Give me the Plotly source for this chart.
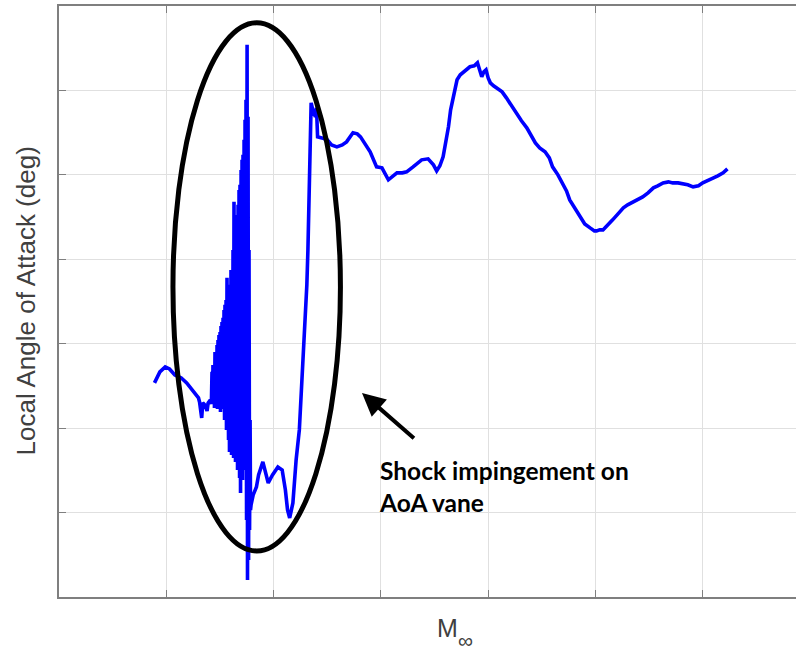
import plotly.graph_objects as go

# Free-stream Mach number (x) and local angle of attack (y)
mach_pre = [0.889, 0.894, 0.899, 0.903, 0.908, 0.914, 0.919, 0.925, 0.930, 0.931,
            0.933, 0.934, 0.936, 0.938, 0.939, 0.941, 0.942]
aoa_pre = [2.536, 2.666, 2.725, 2.701, 2.630, 2.595, 2.536, 2.429, 2.358, 2.310,
           2.121, 2.299, 2.275, 2.204, 2.299, 2.334, 2.287]

# shock-impingement oscillation region
mach_osc = [0.9426, 0.9431, 0.9435, 0.9440, 0.9445, 0.9449, 0.9454, 0.9459, 0.9463, 0.9468,
            0.9473, 0.9477, 0.9482, 0.9487, 0.9491, 0.9496, 0.9501, 0.9505, 0.9510, 0.9515,
            0.9519, 0.9524, 0.9529, 0.9533, 0.9538, 0.9543, 0.9547, 0.9552, 0.9557, 0.9561,
            0.9566, 0.9571, 0.9575, 0.9580, 0.9585, 0.9589, 0.9594, 0.9599, 0.9603, 0.9608,
            0.9613, 0.9617, 0.9622, 0.9627, 0.9631, 0.9636, 0.9641, 0.9645, 0.9650, 0.9655,
            0.9659, 0.9664, 0.9669, 0.9673, 0.9678, 0.9683, 0.9687, 0.9692, 0.9697, 0.9701,
            0.9706, 0.9711, 0.9715, 0.9720, 0.9725, 0.9729, 0.9734, 0.9739, 0.9743, 0.9748,
            0.9753, 0.9757, 0.9762, 0.9767, 0.9771, 0.9776, 0.9781, 0.9785, 0.9790]
aoa_osc = [2.666, 2.287, 2.749, 2.334, 2.713, 2.239, 2.903, 2.310, 2.855, 2.275,
           2.986, 2.227, 3.045, 2.358, 3.104, 2.251, 3.140, 2.192, 3.211, 2.393,
           3.258, 2.227, 3.306, 2.310, 3.400, 2.097, 3.460, 2.192, 3.519, 1.979,
           3.780, 2.038, 3.566, 1.860, 3.637, 1.718, 3.697, 1.979, 3.874, 1.682,
           3.673, 1.801, 4.111, 1.647, 4.680, 1.860, 4.348, 1.600, 4.526, 1.742,
           4.491, 1.505, 4.645, 1.682, 4.822, 1.410, 4.882, 1.232, 5.059, 1.623,
           5.178, 1.386, 5.237, 1.860, 5.415, 1.505, 5.652, 1.682, 5.889, 0.912,
           6.540, 0.201, 5.687, 0.438, 4.111, 0.794, 2.097, 1.031, 1.090]

mach_post = [0.981, 0.984, 0.986, 0.990, 0.992, 0.995, 0.999, 1.004, 1.008, 1.011,
             1.013, 1.015, 1.018, 1.021, 1.024, 1.026, 1.028, 1.029, 1.031, 1.032,
             1.033, 1.034, 1.035, 1.037, 1.039, 1.040, 1.041, 1.045, 1.050, 1.054,
             1.059, 1.064, 1.068, 1.074, 1.078, 1.081, 1.085, 1.090, 1.096, 1.101,
             1.107, 1.111, 1.115, 1.120, 1.124, 1.130, 1.135, 1.138, 1.144, 1.149,
             1.152, 1.155, 1.158, 1.161, 1.163, 1.165, 1.167, 1.169, 1.171, 1.174,
             1.177, 1.180, 1.183, 1.187, 1.190, 1.192, 1.194, 1.196, 1.198, 1.200,
             1.202, 1.205, 1.208, 1.213, 1.217, 1.220, 1.224, 1.228, 1.231, 1.236,
             1.240, 1.244, 1.248, 1.253, 1.257, 1.260, 1.265, 1.269, 1.273, 1.276,
             1.281, 1.286, 1.290, 1.295, 1.299, 1.301, 1.304, 1.307, 1.312, 1.316,
             1.321, 1.326, 1.330, 1.335, 1.340, 1.344, 1.349, 1.354, 1.358, 1.363,
             1.368, 1.372, 1.377, 1.382, 1.386, 1.391, 1.396, 1.400, 1.405, 1.410,
             1.414, 1.419, 1.423]
aoa_post = [1.209, 1.303, 1.445, 1.600, 1.505, 1.351, 1.445, 1.540, 1.505, 1.268,
            1.031, 0.936, 1.114, 1.623, 1.979, 2.453, 2.927, 3.318, 3.697, 4.111,
            4.704, 5.213, 5.853, 5.746, 5.687, 5.794, 5.450, 5.438, 5.415, 5.355,
            5.332, 5.355, 5.391, 5.498, 5.486, 5.450, 5.379, 5.273, 5.095, 5.083,
            4.941, 4.988, 5.024, 5.024, 5.036, 5.095, 5.142, 5.178, 5.190, 5.118,
            5.047, 5.107, 5.213, 5.415, 5.569, 5.770, 5.889, 6.031, 6.126, 6.185,
            6.220, 6.244, 6.280, 6.291, 6.327, 6.244, 6.161, 6.220, 6.244, 6.149,
            6.090, 6.055, 6.031, 5.983, 5.912, 5.853, 5.770, 5.711, 5.640, 5.557,
            5.462, 5.379, 5.320, 5.273, 5.201, 5.095, 5.000, 4.905, 4.810, 4.704,
            4.597, 4.491, 4.419, 4.372, 4.336, 4.336, 4.348, 4.348, 4.408, 4.467,
            4.538, 4.609, 4.645, 4.680, 4.716, 4.739, 4.787, 4.846, 4.870, 4.905,
            4.917, 4.905, 4.905, 4.893, 4.882, 4.858, 4.870, 4.905, 4.929, 4.964,
            4.988, 5.024, 5.071]

x_ticks = [0.9, 1.0, 1.1, 1.2, 1.3, 1.4]
y_ticks = [1, 2, 3, 4, 5, 6]

mach = mach_pre + mach_osc + mach_post
aoa = aoa_pre + aoa_osc + aoa_post

fig = go.Figure()
fig.add_trace(go.Scatter(x=mach, y=aoa, mode="lines",
                         line=dict(color="#0000ff", width=3.6),
                         showlegend=False, hoverinfo="skip"))

axis_col = "#7f7f7f"
grid_col = "#e0e0e0"
fig.update_xaxes(range=[0.8, 1.4869], tickvals=x_ticks, showticklabels=False,
                 ticks="inside", ticklen=7, tickcolor=axis_col, tickwidth=1,
                 showline=True, linecolor=axis_col, linewidth=1.5, mirror="ticks",
                 showgrid=True, gridcolor=grid_col, gridwidth=1, zeroline=False)
fig.update_yaxes(range=[0, 7], tickvals=y_ticks, showticklabels=False,
                 ticks="inside", ticklen=7, tickcolor=axis_col, tickwidth=1,
                 showline=True, linecolor=axis_col, linewidth=1.5, mirror=False,
                 showgrid=True, gridcolor=grid_col, gridwidth=1, zeroline=False)

# ellipse around shock region
fig.add_shape(type="circle", xref="x", yref="y",
              x0=0.9062, x1=1.0623, y0=0.545, y1=6.801,
              line=dict(color="black", width=5))

# arrow
fig.add_annotation(x=1.0824, y=2.417, ax=1.1336, ay=1.848,
                   xref="x", yref="y", axref="x", ayref="y",
                   text=" ", showarrow=True, arrowhead=2, arrowsize=1.15,
                   arrowwidth=4, arrowcolor="black")

fig.add_annotation(x=(377 - 59) / 737, y=(597 - 454) / 591, xref="paper", yref="paper",
                   xanchor="left", yanchor="top", align="left", showarrow=False,
                   text="<b>Shock impingement on<br>AoA vane</b>",
                   font=dict(family="Lato", size=24.5, color="black"))

# axis titles
fig.add_annotation(x=(25 - 59) / 737, y=0.5, xref="paper", yref="paper",
                   xanchor="center", yanchor="middle", textangle=-90, showarrow=False,
                   text="Local Angle of Attack (deg)",
                   font=dict(family="Liberation Sans", size=26, color="#404040"))
fig.add_annotation(x=(435 - 59) / 737, y=-(612 - 597) / 591, xref="paper", yref="paper",
                   xanchor="left", yanchor="top", showarrow=False,
                   text="M",
                   font=dict(family="Liberation Sans", size=25, color="#404040"))
fig.add_annotation(x=(456 - 59) / 737, y=-(653.5 - 597) / 591, xref="paper", yref="paper",
                   xanchor="left", yanchor="bottom", showarrow=False,
                   text="∞",
                   font=dict(family="Liberation Sans", size=21, color="#404040"))

fig.update_layout(width=796, height=654,
                  margin=dict(l=59, r=0, t=6, b=57),
                  paper_bgcolor="white", plot_bgcolor="white")

fig.write_html("out.html")
